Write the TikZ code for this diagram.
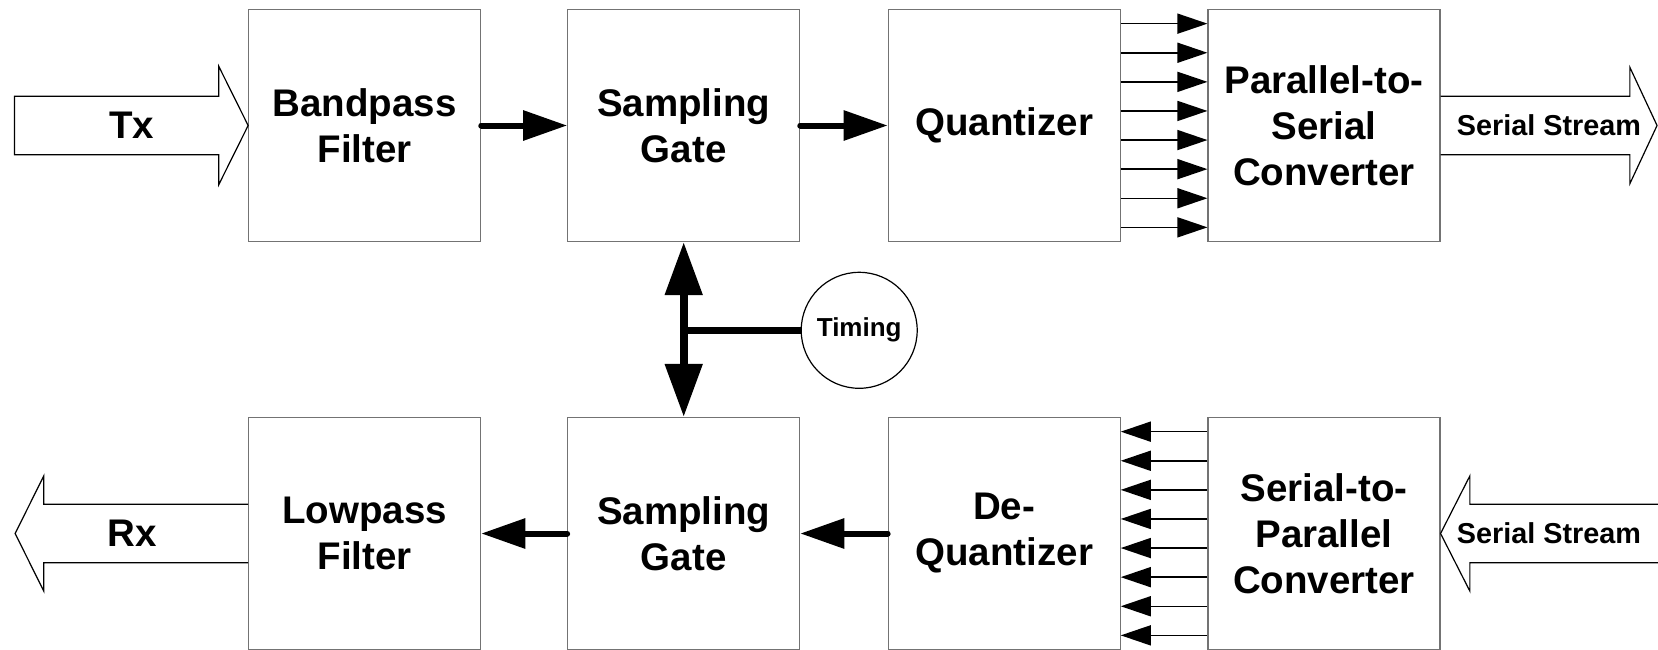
\documentclass[tikz,border=0pt]{standalone}
\usepackage{fontspec}
\setmainfont{Liberation Sans}
\usetikzlibrary{arrows.meta,calc}
\begin{document}
\begin{tikzpicture}[x=1pt,y=-1pt,
  block/.style={draw=black!55, line width=1.1pt, minimum width=232pt,
    minimum height=232pt, inner sep=0pt, align=center,
    font=\fontsize{38.5}{46}\selectfont\bfseries},
  biglabel/.style={inner sep=0pt, font=\fontsize{38.5}{46}\selectfont\bfseries},
  streamlabel/.style={inner sep=0pt, font=\fontsize{28.8}{32}\selectfont\bfseries},
  blockarrow/.style={draw=black, line width=1.2pt, line join=miter},
  flow/.style={line width=6pt, line cap=round, -{Triangle[length=44pt,width=29pt]}},
  bus/.style={line width=1.5pt, -{Triangle[length=30pt,width=20pt]}},
  clock/.style={line width=8pt,
    {Triangle[length=53pt,width=36pt]}-{Triangle[length=53pt,width=36pt]}},
  clockfeed/.style={line width=6.5pt},
  timer/.style={circle, draw=black, line width=1.2pt, minimum size=116pt,
    inner sep=0pt, font=\fontsize{26}{30}\selectfont\bfseries}]
\useasboundingbox (0,0) rectangle (1658,649);

% transmit chain
\node[block] (bp)  at (364.7,125.5)  {Bandpass\\Filter};
\node[block] (sg1) at (683.7,125.5)  {Sampling\\Gate};
\node[block] (qz)  at (1004.2,125.5) {Quantizer};
\node[block] (ps)  at (1324,125.5)   {Parallel-to-\\Serial\\Converter};

% receive chain
\node[block] (lp)  at (364.7,533.5)  {Lowpass\\Filter};
\node[block] (sg2) at (683.7,533.5)  {Sampling\\Gate};
\node[block] (dq)  at (1004.2,533.5) {De-\\Quantizer};
\node[block] (sp)  at (1324,533.5)   {Serial-to-\\Parallel\\Converter};

% timing source
\node[timer] (tm) at (859.2,330.3) {Timing};

% input / output block arrows
\draw[blockarrow] (bp.west) -- ++(-29.4,-59.2) -- ++(0,30) -- ++(-204.3,0)
  -- ++(0,58.4) -- ++(204.3,0) -- ++(0,30) -- cycle;
\node[biglabel] (tx) at (131.7,125.5) {Tx};

\draw[blockarrow] ($(ps.east)+(0,-29.2)$) -- ++(189.3,0) -- ++(0,-29)
  -- ($(ps.east)+(216.5,0)$) -- ($(ps.east)+(189.3,58.2)$)
  -- ($(ps.east)+(189.3,29.2)$) -- ($(ps.east)+(0,29.2)$);
\node[streamlabel] (sout) at (1549,125.5) {Serial Stream};

\draw[blockarrow] ($(lp.west)+(0,-29.2)$) -- ++(-204.4,0) -- ++(0,-28.4)
  -- ($(lp.west)+(-233,0)$) -- ($(lp.west)+(-204.4,57.6)$)
  -- ($(lp.west)+(-204.4,29.2)$) -- ($(lp.west)+(0,29.2)$);
\node[biglabel] (rx) at (132,533.5) {Rx};

\draw[blockarrow] ($(sp.east)+(220,-29.2)$) -- ($(sp.east)+(29.3,-29.2)$)
  -- ($(sp.east)+(29.3,-57.6)$) -- (sp.east) -- ($(sp.east)+(29.3,57.6)$)
  -- ($(sp.east)+(29.3,29.2)$) -- ($(sp.east)+(220,29.2)$);
\node[streamlabel] (sin) at (1549,533.5) {Serial Stream};

% signal flow between blocks
\draw[flow] (bp.east) -- (sg1.west);
\draw[flow] (sg1.east) -- (qz.west);
\draw[flow] (sg2.west) -- (lp.east);
\draw[flow] (dq.west) -- (sg2.east);

% parallel data buses
\foreach \k in {0,...,7} {
  \pgfmathsetmacro\off{(\k-3.5)*29.1}
  \draw[bus] ([yshift=\off pt]qz.east) -- ([yshift=\off pt]ps.west);
  \draw[bus] ([yshift=\off pt]sp.west) -- ([yshift=\off pt]dq.east);
}

% timing distribution to both sampling gates
\coordinate (j) at (sg1.south |- tm.west);
\draw[clockfeed] (j) -- (tm.west);
\draw[clock] (sg1.south) -- (sg2.north);
\end{tikzpicture}
\end{document}
